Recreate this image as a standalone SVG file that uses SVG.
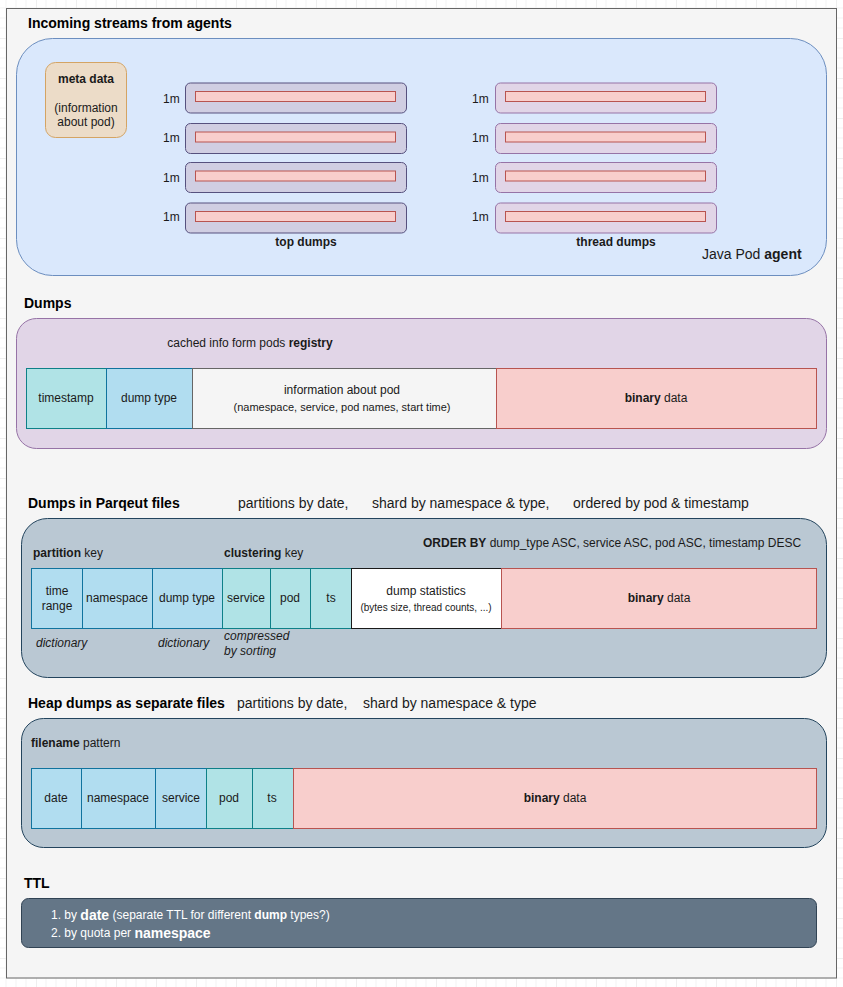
<svg xmlns="http://www.w3.org/2000/svg" width="843" height="987" viewBox="0 0 843 987">
<style>
text{font-family:"Liberation Sans",Arial,sans-serif;fill:#1a1a1a;dominant-baseline:central}
.t12{font-size:12px}
.t14{font-size:14px}
.h{font-size:14px;font-weight:bold;fill:#000}
.b{font-weight:bold}
.c{text-anchor:middle}
.i{font-style:italic}
.w{fill:#ffffff}
.top{fill:#d0cee2;stroke:#56517e;stroke-width:1}
.thr{fill:#e1d5e7;stroke:#9673a6;stroke-width:1}
.bar{fill:#f8cecc;stroke:#b85450;stroke-width:1}
.blue{fill:#b1ddf0;stroke:#10739e;stroke-width:1}
.teal{fill:#b0e3e6;stroke:#0e8088;stroke-width:1}
.bin{fill:#f8cecc;stroke:#b85450;stroke-width:1}
.grey{fill:#f5f5f5;stroke:#666666;stroke-width:1}
.slate{fill:#bac8d3;stroke:#23445d;stroke-width:1}
</style>
<defs>
<pattern id="grid" patternUnits="userSpaceOnUse" x="36" y="38" width="40" height="40">
<path d="M10 0V40M20 0V40M30 0V40M0 10H40M0 20H40M0 30H40" stroke="#f3f3f3" stroke-width="1" fill="none"/>
<path d="M0 0V40M0 0H40" stroke="#e0e0e0" stroke-width="1" fill="none"/>
</pattern>
</defs>
<rect x="0" y="0" width="843" height="987" fill="#ffffff"/>
<rect x="0" y="0" width="843" height="987" fill="url(#grid)"/>
<rect id="page" x="6.5" y="8.5" width="830" height="969.5" fill="#f5f5f5" stroke="#666666" stroke-width="1"/>

<g id="incoming">
<text class="h" x="28" y="23">Incoming streams from agents</text>
<rect x="16.5" y="38.5" width="810" height="237" rx="36" fill="#dae8fc" stroke="#6c8ebf"/>
<text class="t14" x="702" y="254">Java Pod <tspan class="b">agent</tspan></text>
</g>

<g id="meta-data">
<rect x="45.5" y="62.5" width="81" height="75" rx="10" fill="#ecdcc8" stroke="#d4a464"/>
<text class="t12 c b" x="86" y="79">meta data</text>
<text class="t12 c" x="86" y="108">(information</text>
<text class="t12 c" x="86" y="122">about pod)</text>
</g>

<g id="top-dumps">
<text class="t12" x="163" y="99">1m</text>
<rect class="top" x="185.5" y="83" width="221" height="30" rx="5"/>
<rect class="bar" x="195.5" y="91.5" width="200" height="10"/>
<text class="t12" x="163" y="138">1m</text>
<rect class="top" x="185.5" y="123.5" width="221" height="30" rx="5"/>
<rect class="bar" x="195.5" y="132" width="200" height="10"/>
<text class="t12" x="163" y="178">1m</text>
<rect class="top" x="185.5" y="162.5" width="221" height="30" rx="5"/>
<rect class="bar" x="195.5" y="171" width="200" height="10"/>
<text class="t12" x="163" y="217">1m</text>
<rect class="top" x="185.5" y="203" width="221" height="30" rx="5"/>
<rect class="bar" x="195.5" y="211.5" width="200" height="10"/>
<text class="t12 c b" x="306" y="242">top dumps</text>
</g>

<g id="thread-dumps">
<text class="t12" x="472" y="99">1m</text>
<rect class="thr" x="495.5" y="83" width="221" height="30" rx="5"/>
<rect class="bar" x="505.5" y="91.5" width="200" height="10"/>
<text class="t12" x="472" y="138">1m</text>
<rect class="thr" x="495.5" y="123.5" width="221" height="30" rx="5"/>
<rect class="bar" x="505.5" y="132" width="200" height="10"/>
<text class="t12" x="472" y="178">1m</text>
<rect class="thr" x="495.5" y="162.5" width="221" height="30" rx="5"/>
<rect class="bar" x="505.5" y="171" width="200" height="10"/>
<text class="t12" x="472" y="217">1m</text>
<rect class="thr" x="495.5" y="203" width="221" height="30" rx="5"/>
<rect class="bar" x="505.5" y="211.5" width="200" height="10"/>
<text class="t12 c b" x="616" y="242">thread dumps</text>
</g>

<g id="dumps">
<text class="h" x="24" y="303">Dumps</text>
<rect x="16.5" y="318.5" width="810" height="130" rx="20" fill="#e1d5e7" stroke="#9673a6"/>
<text class="t12 c" x="250" y="343">cached info form pods <tspan class="b">registry</tspan></text>
<rect class="teal" x="26.5" y="368.5" width="80" height="60"/>
<rect class="blue" x="106.5" y="368.5" width="86" height="60"/>
<rect class="grey" x="192.5" y="368.5" width="304" height="60"/>
<rect class="bin" x="496.5" y="368.5" width="320" height="60"/>
<text class="t12 c" x="66" y="398">timestamp</text>
<text class="t12 c" x="149" y="398">dump type</text>
<text class="t12 c" x="342" y="390">information about pod</text>
<text class="c" style="font-size:11px" x="342" y="407">(namespace, service, pod names, start time)</text>
<text class="t12 c" x="656" y="398"><tspan class="b">binary</tspan> data</text>
</g>

<g id="parquet">
<text class="h" x="28" y="503">Dumps in Parqeut files</text>
<text class="t14" x="238" y="503">partitions by date,</text>
<text class="t14" x="372" y="503">shard by namespace &amp; type,</text>
<text class="t14" x="573" y="503">ordered by pod &amp; timestamp</text>
<rect class="slate" x="21.5" y="518.5" width="805" height="159" rx="26"/>
<text class="t12" x="33" y="553"><tspan class="b">partition</tspan> key</text>
<text class="t12" x="224" y="553"><tspan class="b">clustering</tspan> key</text>
<text class="t12" x="423" y="543"><tspan class="b">ORDER BY</tspan> dump_type ASC, service ASC, pod ASC, timestamp DESC</text>
<rect class="blue" x="31.5" y="568.5" width="51" height="60"/>
<rect class="blue" x="82.5" y="568.5" width="70" height="60"/>
<rect class="blue" x="152.5" y="568.5" width="70" height="60"/>
<rect class="teal" x="222.5" y="568.5" width="48" height="60"/>
<rect class="teal" x="270.5" y="568.5" width="40" height="60"/>
<rect class="teal" x="310.5" y="568.5" width="41" height="60"/>
<rect x="351.5" y="568.5" width="150" height="60" fill="#ffffff" stroke="#1a1a1a"/>
<rect class="bin" x="501.5" y="568.5" width="315" height="60"/>
<text class="t12 c" x="57" y="591">time</text>
<text class="t12 c" x="57" y="606">range</text>
<text class="t12 c" x="117" y="598">namespace</text>
<text class="t12 c" x="187" y="598">dump type</text>
<text class="t12 c" x="246" y="598">service</text>
<text class="t12 c" x="290" y="598">pod</text>
<text class="t12 c" x="331" y="598">ts</text>
<text class="t12 c" x="426" y="591">dump statistics</text>
<text class="c" style="font-size:10px" x="426" y="607">(bytes size, thread counts, ...)</text>
<text class="t12 c" x="659" y="598"><tspan class="b">binary</tspan> data</text>
<text class="t12 i" x="36" y="643">dictionary</text>
<text class="t12 i" x="158" y="643">dictionary</text>
<text class="t12 i" x="224" y="636">compressed</text>
<text class="t12 i" x="224" y="651">by sorting</text>
</g>

<g id="heap">
<text class="h" x="28" y="703">Heap dumps as separate files</text>
<text class="t14" x="237" y="703">partitions by date,</text>
<text class="t14" x="363" y="703">shard by namespace &amp; type</text>
<rect class="slate" x="21.5" y="718.5" width="805" height="129" rx="22"/>
<text class="t12" x="31" y="743"><tspan class="b">filename</tspan> pattern</text>
<rect class="blue" x="31.5" y="768.5" width="50" height="60"/>
<rect class="blue" x="81.5" y="768.5" width="74" height="60"/>
<rect class="blue" x="155.5" y="768.5" width="51" height="60"/>
<rect class="teal" x="206.5" y="768.5" width="46" height="60"/>
<rect class="teal" x="252.5" y="768.5" width="41" height="60"/>
<rect class="bin" x="293.5" y="768.5" width="523" height="60"/>
<text class="t12 c" x="56" y="798">date</text>
<text class="t12 c" x="118" y="798">namespace</text>
<text class="t12 c" x="181" y="798">service</text>
<text class="t12 c" x="229" y="798">pod</text>
<text class="t12 c" x="272" y="798">ts</text>
<text class="t12 c" x="555" y="798"><tspan class="b">binary</tspan> data</text>
</g>

<g id="ttl">
<text class="h" x="24" y="883">TTL</text>
<rect x="21.5" y="898.5" width="795" height="49" rx="7" fill="#647687" stroke="#314354"/>
<text class="t12 w" x="51" y="915">1. by <tspan class="b" style="font-size:14px">date</tspan> (separate TTL for different <tspan class="b">dump</tspan> types?)</text>
<text class="t12 w" x="51" y="933">2. by quota per <tspan class="b" style="font-size:14px">namespace</tspan></text>
</g>

<g id="connectors"></g>
</svg>
